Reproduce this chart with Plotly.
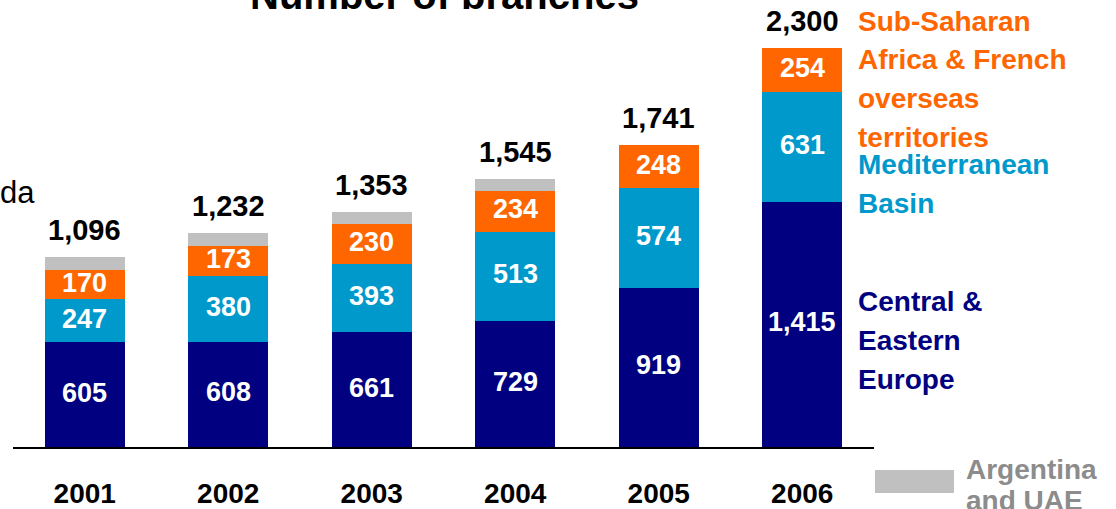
import plotly.graph_objects as go

# Branch counts by region, 2001-2006
years = ["2001", "2002", "2003", "2004", "2005", "2006"]
central_eastern_europe = [605, 608, 661, 729, 919, 1415]
mediterranean_basin = [247, 380, 393, 513, 574, 631]
sub_saharan_africa = [170, 173, 230, 234, 248, 254]
argentina_uae = [74, 71, 69, 69, 0, 0]
totals = [1096, 1232, 1353, 1545, 1741, 2300]

NAVY = "#000080"
BLUE = "#0099CC"
ORANGE = "#FF6600"
GREY = "#C0C0C0"
GREY_TEXT = "#8C8C8C"
FONT = "Arial, 'Liberation Sans', sans-serif"

W, H = 1116, 509
M_L, M_R, M_T, M_B = 13, 242, 31, 62
PLOT_W = W - M_L - M_R
PLOT_H = H - M_T - M_B


def px_x(px):
    return (px - M_L) / PLOT_W


def px_y(py):
    return (H - M_B - py) / PLOT_H


series = [
    ("Central & Eastern Europe", central_eastern_europe, NAVY),
    ("Mediterranean Basin", mediterranean_basin, BLUE),
    ("Sub-Saharan Africa & French overseas territories", sub_saharan_africa, ORANGE),
    ("Argentina and UAE", argentina_uae, GREY),
]

fig = go.Figure()
for name, vals, color in series:
    fig.add_trace(go.Bar(
        x=years, y=vals, name=name,
        marker=dict(color=color, line=dict(width=0)),
        hoverinfo="skip",
    ))

annotations = []

# Segment values written inside the bars (x given as category index)
labelled = series[:3]
for i, yr in enumerate(years):
    base = 0
    for name, vals, color in labelled:
        v = vals[i]
        annotations.append(dict(
            x=i, y=base + v / 2, xref="x", yref="y",
            text=f"<b>{v:,}</b>", showarrow=False,
            font=dict(family=FONT, size=27, color="white"),
            xanchor="center", yanchor="middle", yshift=2,
        ))
        base += v

# Totals above each bar
for i, t in enumerate(totals):
    annotations.append(dict(
        x=i, y=t, xref="x", yref="y",
        text=f"<b>{t:,}</b>", showarrow=False,
        font=dict(family=FONT, size=29, color="black"),
        xanchor="center", yanchor="middle", yshift=27,
    ))

# Region names at the right side
legend_lines = [
    ("Sub-Saharan", 22, ORANGE),
    ("Africa & French", 60, ORANGE),
    ("overseas", 99, ORANGE),
    ("territories", 137, ORANGE),
    ("Mediterranean", 164, BLUE),
    ("Basin", 203, BLUE),
    ("Central &", 301, NAVY),
    ("Eastern", 340, NAVY),
    ("Europe", 379, NAVY),
]
for txt, py, color in legend_lines:
    annotations.append(dict(
        x=px_x(856), y=px_y(py), xref="paper", yref="paper",
        text=f"<b>{txt}</b>", showarrow=False,
        font=dict(family=FONT, size=28, color=color),
        xanchor="left", yanchor="middle",
    ))

for txt, py in [("Argentina", 469), ("and UAE", 500)]:
    annotations.append(dict(
        x=px_x(964), y=px_y(py), xref="paper", yref="paper",
        text=f"<b>{txt}</b>", showarrow=False,
        font=dict(family=FONT, size=28, color=GREY_TEXT),
        xanchor="left", yanchor="middle",
    ))

# Title (runs off the top edge)
annotations.append(dict(
    x=px_x(444), y=px_y(-5), xref="paper", yref="paper",
    text="<b>Number of branches</b>", showarrow=False,
    font=dict(family=FONT, size=40, color="black"),
    xanchor="center", yanchor="middle",
))

# Partial label at the left edge
annotations.append(dict(
    x=px_x(37), y=px_y(193), xref="paper", yref="paper",
    text="da", showarrow=False,
    font=dict(family=FONT, size=31, color="black"),
    xanchor="right", yanchor="middle",
))

shapes = [dict(
    type="rect", xref="paper", yref="paper",
    x0=px_x(875), x1=px_x(954), y0=px_y(493), y1=px_y(470),
    fillcolor=GREY, line=dict(width=0),
)]

fig.update_layout(
    width=W, height=H,
    margin=dict(l=M_L, r=M_R, t=M_T, b=M_B, pad=0, autoexpand=False),
    barmode="stack", bargap=0.44,
    showlegend=False,
    plot_bgcolor="white", paper_bgcolor="white",
    annotations=annotations, shapes=shapes,
    font=dict(family=FONT),
)
fig.update_xaxes(
    type="category", range=[-0.5, 5.5], automargin=False,
    showline=True, linecolor="black", linewidth=1.5,
    showgrid=False, ticks="", zeroline=False,
    tickfont=dict(family=FONT, size=28, color="black"),
    tickprefix="<b>", ticksuffix="</b>",
    ticklabelstandoff=21,
)
fig.update_yaxes(
    range=[0, 2400], visible=False, showgrid=False, zeroline=False,
    automargin=False,
)

fig.write_html("out.html")
